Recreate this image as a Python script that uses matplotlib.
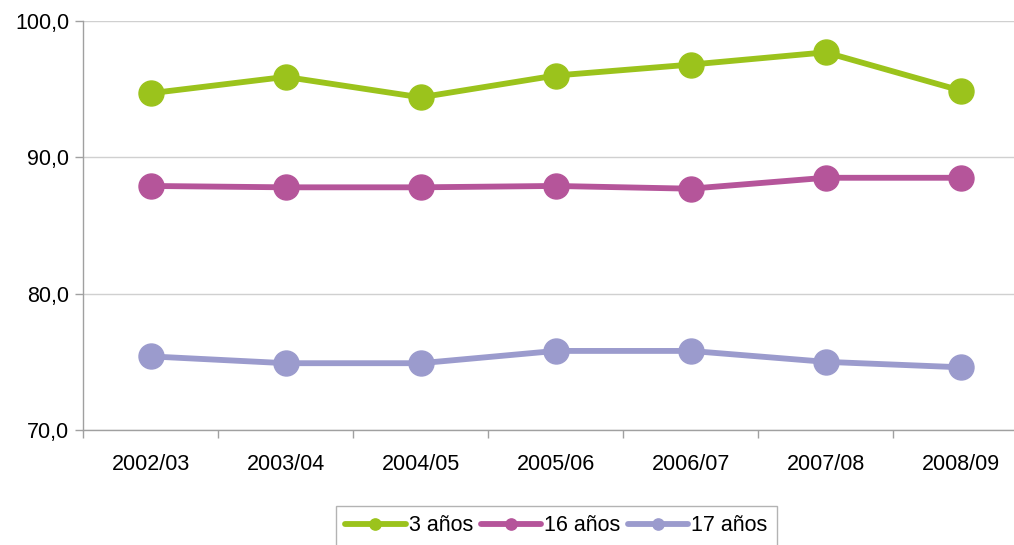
import matplotlib
matplotlib.use("Agg")
import matplotlib.pyplot as plt
import numpy as np

plt.rcParams['font.family'] = ['Liberation Sans', 'DejaVu Sans']

categories = ["2002/03", "2003/04", "2004/05", "2005/06", "2006/07", "2007/08", "2008/09"]
s3 = [94.7, 95.9, 94.4, 96.0, 96.8, 97.7, 94.9]
s16 = [87.9, 87.8, 87.8, 87.9, 87.7, 88.5, 88.5]
s17 = [75.4, 74.9, 74.9, 75.8, 75.8, 75.0, 74.6]
series_names = ["3 años", "16 años", "17 años"]
colors = ["#9BC31C", "#B5559A", "#9B9BCD"]

fig = plt.figure(figsize=(10.14, 5.45), dpi=100)
ax = fig.add_axes([0.0819, 0.211, 0.932, 0.7505])

x = np.arange(len(categories))
for vals, name, c in zip([s3, s16, s17], series_names, colors):
    ax.plot(x, vals, color=c, lw=4.2, marker='o', markersize=18, label=name,
            solid_capstyle='round', zorder=3)

ax.set_xlim(-0.5, len(categories) - 0.5)
ax.set_ylim(70, 100)
ax.set_yticks([70, 80, 90, 100])
ax.set_yticklabels(["70,0", "80,0", "90,0", "100,0"], fontsize=15.5)
ax.set_xticks(x)
ax.set_xticklabels(categories, fontsize=15.5)
ax.set_xticks(np.arange(len(categories) + 1) - 0.5, minor=True)
ax.tick_params(axis='x', which='major', length=0, pad=17)
ax.tick_params(axis='x', which='minor', length=6, color='#A0A0A0', width=1)
ax.tick_params(axis='y', length=6, color='#A0A0A0', width=1, pad=4)
ax.yaxis.grid(True, color='#D0D0D0', lw=1)
ax.set_axisbelow(True)
for s in ['top', 'right']:
    ax.spines[s].set_visible(False)
for s in ['left', 'bottom']:
    ax.spines[s].set_color('#A0A0A0')
    ax.spines[s].set_linewidth(1)

leg = ax.legend(loc='upper center', bbox_to_anchor=(0.501, -0.185), ncol=3,
                fontsize=15.5, markerscale=0.45, handlelength=2.8, handletextpad=0.15,
                columnspacing=0.35, frameon=True, fancybox=False, borderpad=0.45,
                borderaxespad=0)
leg.get_frame().set_edgecolor('#A0A0A0')
leg.get_frame().set_linewidth(1)

fig.savefig("out.png", dpi=100)
